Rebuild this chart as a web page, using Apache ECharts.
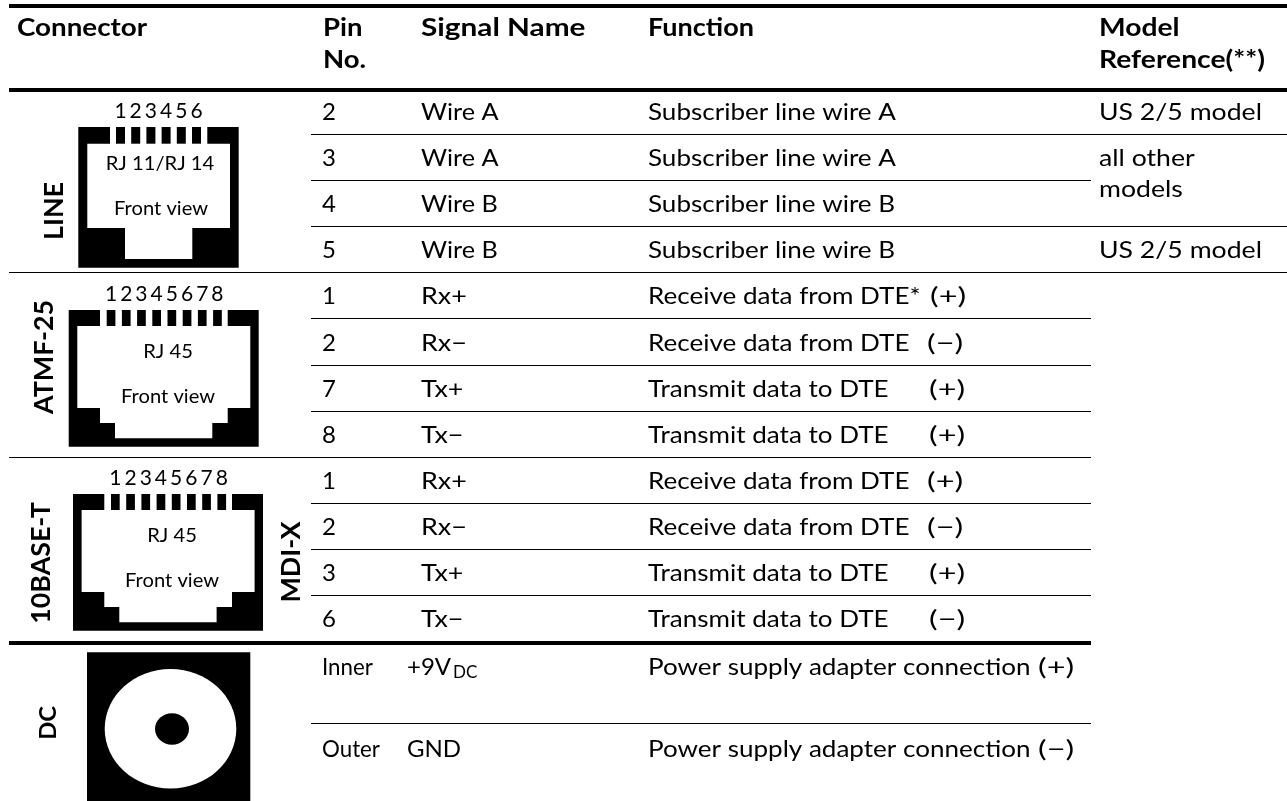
<!DOCTYPE html>
<html>
<head>
<meta charset="utf-8">
<style>
  html, body { margin: 0; padding: 0; background: #fff; }
  #main { width: 1287px; height: 801px; }
</style>
</head>
<body>
<div id="main"></div>
<script src="https://cdn.jsdelivr.net/npm/echarts@6/dist/echarts.min.js"></script>
<script>
// table content
const pinNumbers = ['2', '3', '4', '5', '1', '2', '7', '8', '1', '2', '3', '6', 'Inner', 'Outer'];
const signalNames = ['Wire A', 'Wire A', 'Wire B', 'Wire B', 'Rx+', 'Rx\u2212', 'Tx+', 'Tx\u2212', 'Rx+', 'Rx\u2212', 'Tx+', 'Tx\u2212', '+9V', 'GND'];
const functionNames = [
  'Subscriber line wire A', 'Subscriber line wire A', 'Subscriber line wire B', 'Subscriber line wire B',
  'Receive data from DTE*', 'Receive data from DTE', 'Transmit data to DTE', 'Transmit data to DTE',
  'Receive data from DTE', 'Receive data from DTE', 'Transmit data to DTE', 'Transmit data to DTE',
  'Power supply adapter connection', 'Power supply adapter connection'
];
const functionSigns = ['', '', '', '', '(+)', '(\u2212)', '(+)', '(+)', '(+)', '(\u2212)', '(+)', '(\u2212)', '(+)', '(\u2212)'];
const modelNotes = ['US 2/5 model', 'all other', 'models', 'US 2/5 model'];
const headerLabels = ['Connector', 'Pin', 'No.', 'Signal Name', 'Function', 'Model', 'Reference(**)'];
const sideLabels = ['LINE', 'ATMF-25', '10BASE-T', 'MDI-X', 'DC'];
const jackLabels = ['RJ 11/RJ 14', 'Front view', 'RJ 45', 'Front view', 'RJ 45', 'Front view'];
const jackPins = [
  ['1', '2', '3', '4', '5', '6'],
  ['1', '2', '3', '4', '5', '6', '7', '8'],
  ['1', '2', '3', '4', '5', '6', '7', '8']
];

// layout, in pixels of the page
const rowMiddle = [112.5, 158.5, 204.5, 250.5, 296.5, 343, 389, 435, 481, 527, 573, 619, 667, 749];
const signX = [0, 0, 0, 0, 930, 927, 929, 929, 927, 927, 929, 929, 1038, 1038];
const modelMiddle = [112.5, 158, 189, 250.5];
const headerPos = [[17, 28], [323, 28], [323, 60], [421, 28], [648, 28], [1099, 28], [1099, 60]];
const headerStretch = [1.11, 1.1, 1.1, 1.19, 1.08, 1.13, 1.13];
const sidePos = [[55, 211], [45, 357], [42, 563], [292, 562], [49, 723]];
const sideSize = [26, 26, 26, 26, 23];
const jackLabelPos = [[160, 164], [161, 209], [168, 352], [168, 397], [172, 536], [172, 581]];
const thinRules = [
  [311, 1287, 134], [311, 1091, 180], [311, 1287, 226], [9, 1287, 272],
  [311, 1091, 318], [311, 1091, 365], [311, 1091, 411], [9, 1091, 457],
  [311, 1091, 503], [311, 1091, 549], [311, 1091, 595], [311, 1091, 723]
];
const thickRules = [[9, 1287, 4], [9, 1287, 88], [9, 1091, 641]];

const rj45Cut = [[31.3, 0], [159, 0], [159, 16], [181.6, 16], [181.6, 98], [159, 98], [159, 113], [143.6, 113], [143.6, 128.3], [46.3, 128.3], [46.3, 113], [31.3, 113], [31.3, 98], [8.6, 98], [8.6, 16], [31.3, 16]];
const jackShapes = [
  {
    x: 78.3, y: 127, w: 160.4, h: 140.7, pinX: 37.7, pinW: 9, pinH: 16.7,
    cut: [[31.7, 0], [129, 0], [129, 16.7], [151.7, 16.7], [151.7, 101], [114, 101], [114, 132], [46.7, 132], [46.7, 101], [9, 101], [9, 16.7], [31.7, 16.7]]
  },
  { x: 68.7, y: 310, w: 190, h: 136.7, pinX: 38, pinW: 8.7, pinH: 16, cut: rj45Cut },
  { x: 73, y: 494, w: 190, h: 136.7, pinX: 38, pinW: 8.7, pinH: 16, cut: rj45Cut }
];
const PIN_PITCH = 15.2;

const FONT = 'Lato';
const BODY_SIZE = 24;

// every text of the table as one list
let cells = [];
function addCell(text, x, y, size, opts) {
  cells.push(Object.assign({ text: text, x: x, y: y, size: size, weight: 'normal', align: 'left', rotate: 0, stretch: 1 }, opts));
}
headerLabels.forEach((t, i) => addCell(t, headerPos[i][0], headerPos[i][1], 25, { weight: 'bold', stretch: headerStretch[i] }));
pinNumbers.forEach((t, i) => addCell(t, 322, rowMiddle[i], BODY_SIZE, { stretch: i < 12 ? 1 : 0.93 }));
signalNames.forEach((t, i) => addCell(t, i < 12 ? 421 : 407, rowMiddle[i], BODY_SIZE, { stretch: i < 4 ? 1.05 : (i < 12 ? 1.12 : 1) }));
addCell('DC', 453, 673, 17);
functionNames.forEach((t, i) => addCell(t, 648, rowMiddle[i], BODY_SIZE, { stretch: 1.085 }));
functionSigns.forEach((t, i) => { if (t) addCell(t, signX[i], rowMiddle[i], BODY_SIZE, { stretch: 1.35 }); });
modelNotes.forEach((t, i) => addCell(t, 1099, modelMiddle[i], BODY_SIZE, { stretch: 1.11 }));
sideLabels.forEach((t, i) => addCell(t, sidePos[i][0], sidePos[i][1], sideSize[i], { weight: 'bold', align: 'center', rotate: Math.PI / 2, stretch: 1.03 }));
jackLabels.forEach((t, i) => addCell(t, jackLabelPos[i][0], jackLabelPos[i][1], 18.5, { align: 'center', stretch: 1.09 }));
jackPins.forEach((pins, j) => {
  let shape = jackShapes[j];
  pins.forEach((t, i) => {
    addCell(t, shape.x + shape.pinX + shape.pinW / 2 + i * PIN_PITCH, shape.y - 15.7, 21, { align: 'center' });
  });
});

function renderCell(params, api) {
  let c = cells[params.dataIndex];
  let p = api.coord([c.x, c.y]);
  return {
    type: 'text',
    x: p[0],
    y: p[1],
    rotation: c.rotate,
    scaleX: c.stretch,
    style: {
      text: c.text,
      fill: '#000',
      align: c.align,
      verticalAlign: 'middle',
      font: c.weight + ' ' + c.size + 'px ' + FONT
    }
  };
}

function renderRule(params, api) {
  let a = api.coord([api.value(0), api.value(2)]);
  let b = api.coord([api.value(1), api.value(2) + api.value(3)]);
  return {
    type: 'rect',
    shape: { x: a[0], y: a[1], width: b[0] - a[0], height: b[1] - a[1] },
    style: { fill: '#000' }
  };
}

function renderJack(params, api) {
  let s = jackShapes[params.dataIndex];
  let at = (x, y) => api.coord([s.x + x, s.y + y]);
  let size = at(s.w, s.h), org = at(0, 0);
  let kids = [
    { type: 'rect', shape: { x: org[0], y: org[1], width: size[0] - org[0], height: size[1] - org[1] }, style: { fill: '#000' } },
    { type: 'polygon', shape: { points: s.cut.map(q => at(q[0], q[1])) }, style: { fill: '#fff' } }
  ];
  jackPins[params.dataIndex].forEach((t, i) => {
    let q = at(s.pinX + i * PIN_PITCH, 0);
    kids.push({ type: 'rect', shape: { x: q[0], y: q[1], width: s.pinW, height: s.pinH }, style: { fill: '#000' } });
  });
  return { type: 'group', children: kids };
}

function renderBarrel(params, api) {
  let o = api.coord([87, 652.3]), e = api.coord([250.3, 801]);
  let c1 = api.coord([170.5, 728.8]), c2 = api.coord([172, 729]);
  return {
    type: 'group',
    children: [
      { type: 'rect', shape: { x: o[0], y: o[1], width: e[0] - o[0], height: e[1] - o[1] }, style: { fill: '#000' } },
      { type: 'ellipse', shape: { cx: c1[0], cy: c1[1], rx: 65.8, ry: 59.8 }, style: { fill: '#fff' } },
      { type: 'ellipse', shape: { cx: c2[0], cy: c2[1], rx: 17, ry: 15.7 }, style: { fill: '#000' } }
    ]
  };
}

let ruleData = thinRules.map(r => r.concat(1)).concat(thickRules.map(r => r.concat(4)));

let chart = echarts.init(document.getElementById('main'));
chart.setOption({
  animation: false,
  backgroundColor: '#fff',
  grid: { left: 0, right: 0, top: 0, bottom: 0 },
  xAxis: { type: 'value', min: 0, max: 1287, show: false },
  yAxis: { type: 'value', min: 0, max: 801, inverse: true, show: false },
  series: [
    { type: 'custom', coordinateSystem: 'cartesian2d', clip: false, silent: true, renderItem: renderRule, data: ruleData },
    { type: 'custom', coordinateSystem: 'cartesian2d', clip: false, silent: true, renderItem: renderJack, data: jackShapes.map(s => [s.x, s.y]) },
    { type: 'custom', coordinateSystem: 'cartesian2d', clip: false, silent: true, renderItem: renderBarrel, data: [[87, 652]] },
    { type: 'custom', coordinateSystem: 'cartesian2d', clip: false, silent: true, renderItem: renderCell, data: cells.map(c => [c.x, c.y]) }
  ]
});
</script>
</body>
</html>
